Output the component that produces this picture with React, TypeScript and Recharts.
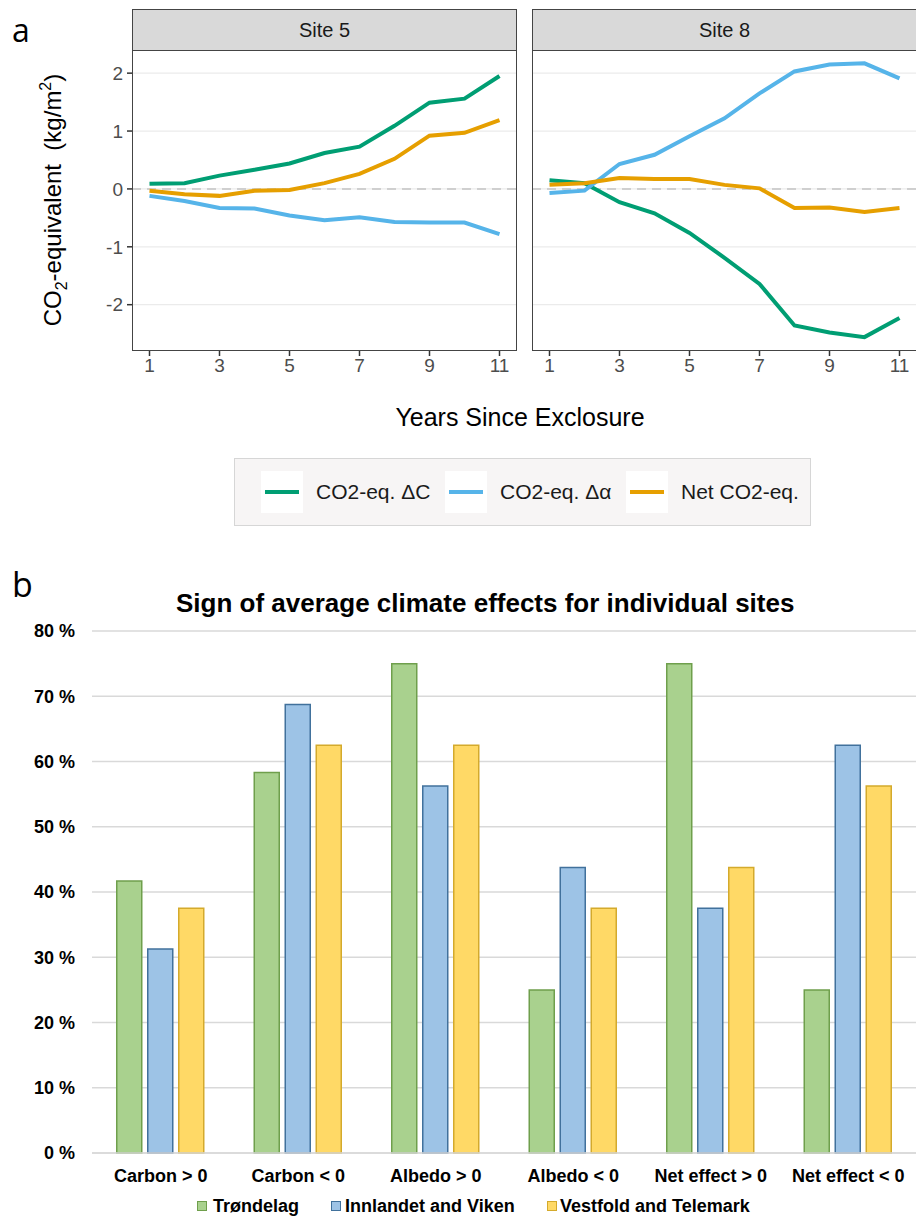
import React from 'react';
import { LineChart, Line, XAxis, YAxis, ReferenceLine, BarChart, Bar, CartesianGrid } from 'recharts';

// panel a: CO2-equivalent per year since exclosure
const years = [1, 2, 3, 4, 5, 6, 7, 8, 9, 10, 11];
const site5Carbon = [0.09, 0.10, 0.23, 0.33, 0.44, 0.62, 0.73, 1.09, 1.49, 1.56, 1.95];
const site5Albedo = [-0.12, -0.21, -0.33, -0.34, -0.46, -0.54, -0.49, -0.57, -0.58, -0.58, -0.78];
const site5Net = [-0.03, -0.09, -0.12, -0.03, -0.02, 0.10, 0.26, 0.52, 0.92, 0.97, 1.19];
const site8Carbon = [0.15, 0.10, -0.23, -0.42, -0.76, -1.19, -1.64, -2.36, -2.48, -2.56, -2.23];
const site8Albedo = [-0.07, -0.03, 0.43, 0.59, 0.91, 1.22, 1.65, 2.03, 2.15, 2.17, 1.91];
const site8Net = [0.07, 0.10, 0.19, 0.17, 0.17, 0.07, 0.01, -0.33, -0.32, -0.40, -0.33];
const xTicks = [1, 3, 5, 7, 9, 11];
const yTicks = [-2, -1, 0, 1, 2];

// panel b: share of sites per sign
const categories = ['Carbon > 0', 'Carbon < 0', 'Albedo > 0', 'Albedo < 0', 'Net effect > 0', 'Net effect < 0'];
const trondelag = [41.67, 58.33, 75, 25, 75, 25];
const innlandet = [31.25, 68.75, 56.25, 43.75, 37.5, 62.5];
const vestfold = [37.5, 62.5, 62.5, 37.5, 43.75, 56.25];
const pctTicks = [0, 10, 20, 30, 40, 50, 60, 70, 80];

const GREEN = '#009E73';
const BLUE = '#56B4E9';
const ORANGE = '#E69F00';
const FONT = "'Liberation Sans', Arial, Helvetica, sans-serif";

const toRows = (c: number[], a: number[], n: number[]) =>
  years.map((y, i) => ({ year: y, c: c[i], alb: a[i], net: n[i] }));

const site5 = toRows(site5Carbon, site5Albedo, site5Net);
const site8 = toRows(site8Carbon, site8Albedo, site8Net);
const barRows = categories.map((cat, i) => ({ cat, t: trondelag[i], iv: innlandet[i], vt: vestfold[i] }));

function Facet({ rows, showY }: { rows: any[]; showY: boolean }) {
  return (
    <LineChart
      width={showY ? 520 : 397}
      height={400}
      data={rows}
      margin={{ top: 50, right: showY ? 3 : 0, bottom: 0, left: showY ? 0 : 12 }}
      style={{ fontFamily: FONT }}
    >
      {yTicks.map(v => (
        <ReferenceLine key={v} y={v} stroke="#ebebeb" strokeWidth={1.3} />
      ))}
      <ReferenceLine y={0} stroke="#c4c4c4" strokeWidth={1.5} strokeDasharray="9 6" />
      <XAxis
        type="number"
        dataKey="year"
        domain={[0.5, 11.5]}
        ticks={xTicks}
        height={49}
        axisLine={false}
        tickLine={{ stroke: '#333', strokeWidth: 1.5 }}
        tickSize={5}
        tickMargin={3}
        tick={{ fontSize: 19, fill: '#4d4d4d' }}
      />
      <YAxis
        type="number"
        domain={[-2.8, 2.4]}
        ticks={yTicks}
        allowDataOverflow
        hide={!showY}
        width={132}
        axisLine={false}
        tickLine={{ stroke: '#333', strokeWidth: 1.5 }}
        tickSize={5}
        tickMargin={4}
        tick={{ fontSize: 19, fill: '#4d4d4d' }}
      />
      <Line dataKey="c" stroke={GREEN} strokeWidth={4} dot={false} isAnimationActive={false} />
      <Line dataKey="alb" stroke={BLUE} strokeWidth={4} dot={false} isAnimationActive={false} />
      <Line dataKey="net" stroke={ORANGE} strokeWidth={4} dot={false} isAnimationActive={false} />
    </LineChart>
  );
}

const abs = (s: React.CSSProperties): React.CSSProperties => ({ position: 'absolute', boxSizing: 'border-box', ...s });

export default function App() {
  const panels = [
    { left: 132, label: 'Site 5' },
    { left: 532, label: 'Site 8' },
  ];
  const lineKeys = [
    { box: 261, text: 316, color: GREEN, label: 'CO2-eq. ΔC' },
    { box: 445, text: 500, color: BLUE, label: 'CO2-eq. Δα' },
    { box: 626, text: 681, color: ORANGE, label: 'Net CO2-eq.' },
  ];
  const barKeys = [
    { sq: 197, text: 213, fill: '#a9d18e', stroke: '#6f9f4c', label: 'Trøndelag' },
    { sq: 331, text: 345, fill: '#9dc3e6', stroke: '#41719c', label: 'Innlandet and Viken' },
    { sq: 547, text: 560, fill: '#ffd966', stroke: '#d4aa2c', label: 'Vestfold and Telemark' },
  ];

  return (
    <div style={{ position: 'relative', width: 916, height: 1217, overflow: 'hidden', background: '#fff', fontFamily: FONT }}>
      <style>{'body{margin:0}'}</style>

      {/* panel a */}
      <div style={abs({ left: 0, top: 0 })}>
        <Facet rows={site5} showY />
      </div>
      <div style={abs({ left: 520, top: 0 })}>
        <Facet rows={site8} showY={false} />
      </div>
      {panels.map(p => (
        <React.Fragment key={p.label}>
          <div style={abs({ left: p.left, top: 50, width: 385, height: 301, border: '1.5px solid #444' })} />
          <div
            style={abs({
              left: p.left, top: 9, width: 385, height: 42, background: '#d9d9d9', border: '1.5px solid #444',
              display: 'flex', alignItems: 'center', justifyContent: 'center', fontSize: 20, color: '#1a1a1a',
            })}
          >
            {p.label}
          </div>
        </React.Fragment>
      ))}
      <div style={abs({ left: 12, top: 10, fontSize: 32, fontFamily: "'Open Sans', sans-serif", lineHeight: '40px' })}>a</div>
      <svg width={100} height={400} style={abs({ left: 0, top: 0 })}>
        <text transform="translate(61,200) rotate(-90)" textAnchor="middle" fontSize={24} fill="#000" style={{ whiteSpace: 'pre' }}>
          CO<tspan fontSize={16} dy={6}>2</tspan>
          <tspan dy={-6}>-equivalent  (kg/m</tspan>
          <tspan fontSize={16} dy={-10}>2</tspan>
          <tspan dy={10}>)</tspan>
        </text>
      </svg>
      <div style={abs({ left: 300, top: 403, width: 440, textAlign: 'center', fontSize: 25, color: '#000' })}>
        Years Since Exclosure
      </div>

      <div style={abs({ left: 234, top: 458, width: 577, height: 68, background: '#f7f5f5', border: '1px solid #d6d6d6' })} />
      {lineKeys.map(k => (
        <React.Fragment key={k.label}>
          <div style={abs({ left: k.box, top: 471, width: 42, height: 42, background: '#fff' })} />
          <div style={abs({ left: k.box + 4, top: 490, width: 34, height: 4, background: k.color })} />
          <div style={abs({ left: k.text, top: 480, fontSize: 21, lineHeight: '24px', color: '#1a1a1a', whiteSpace: 'nowrap' })}>
            {k.label}
          </div>
        </React.Fragment>
      ))}

      {/* panel b */}
      <div style={abs({ left: 12, top: 562, fontSize: 34, fontFamily: "'Open Sans', sans-serif", lineHeight: '44px' })}>b</div>
      <div style={abs({ left: 176, top: 588, width: 600, textAlign: 'center', fontSize: 26, fontWeight: 700, whiteSpace: 'nowrap' })}>
        Sign of average climate effects for individual sites
      </div>
      <div style={abs({ left: 0, top: 620 })}>
        <BarChart
          width={917}
          height={597}
          data={barRows}
          margin={{ top: 11, right: 0, bottom: 0, left: 0 }}
          barCategoryGap="18%"
          barGap={6}
          style={{ fontFamily: FONT }}
        >
          <CartesianGrid vertical={false} stroke="#d9d9d9" strokeWidth={1.5} />
          <XAxis
            dataKey="cat"
            height={64}
            interval={0}
            axisLine={{ stroke: '#d9d9d9', strokeWidth: 1.5 }}
            tickLine={false}
            tickMargin={10}
            tick={{ fontSize: 18, fontWeight: 700, fill: '#000' }}
          />
          <YAxis
            domain={[0, 80]}
            ticks={pctTicks}
            width={92}
            axisLine={false}
            tickLine={false}
            tickMargin={11}
            tickFormatter={(v: number) => `${v} %`}
            tick={{ fontSize: 18, fontWeight: 700, fill: '#000' }}
          />
          <Bar dataKey="t" fill={barKeys[0].fill} stroke={barKeys[0].stroke} strokeWidth={1.5} isAnimationActive={false} />
          <Bar dataKey="iv" fill={barKeys[1].fill} stroke={barKeys[1].stroke} strokeWidth={1.5} isAnimationActive={false} />
          <Bar dataKey="vt" fill={barKeys[2].fill} stroke={barKeys[2].stroke} strokeWidth={1.5} isAnimationActive={false} />
        </BarChart>
      </div>
      {barKeys.map(k => (
        <React.Fragment key={k.label}>
          <div style={abs({ left: k.sq, top: 1201, width: 10, height: 10, background: k.fill, border: `1.5px solid ${k.stroke}` })} />
          <div style={abs({ left: k.text, top: 1195, fontSize: 18, fontWeight: 700, lineHeight: '22px', whiteSpace: 'nowrap' })}>
            {k.label}
          </div>
        </React.Fragment>
      ))}
    </div>
  );
}
